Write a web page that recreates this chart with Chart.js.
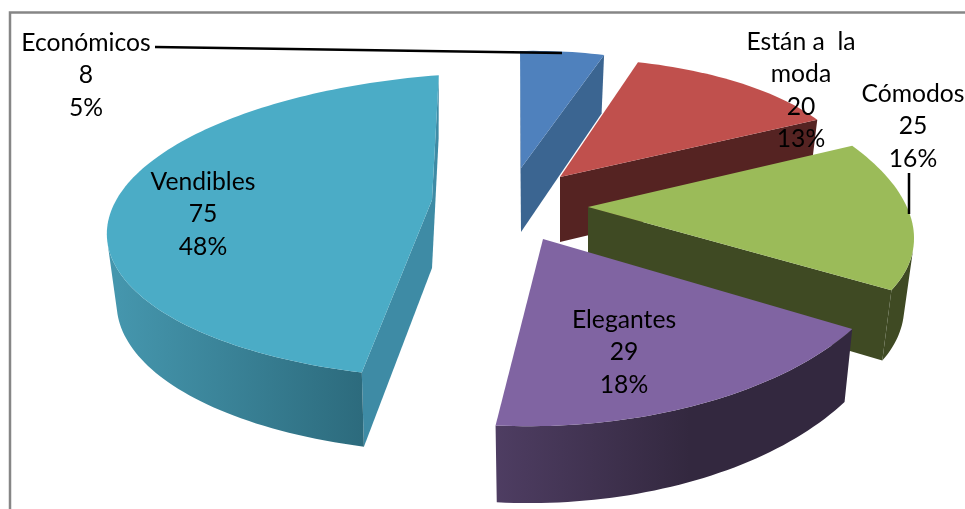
<!DOCTYPE html>
<html>
<head>
<meta charset="utf-8">
<style>
  html, body { margin: 0; padding: 0; background: #fff; }
  canvas { display: block; }
</style>
<script src="https://cdn.jsdelivr.net/npm/chart.js@4/dist/chart.umd.min.js"></script>
</head>
<body>
<canvas id="pie3d" width="965" height="509"></canvas>
<script>
const categories = ["Económicos", "Están a  la moda", "Cómodos", "Elegantes", "Vendibles"];
const amounts = [8, 20, 25, 29, 75];

const topColors = ["#4f81bd", "#c0504d", "#9bbb59", "#8064a2", "#4bacc6"];
const faceColors = ["#3b6591", "#552322", "#3f4a23", "#3f3150", "#3e8ba5"];
const wallColors = [
  ["#3b6591", "#3b6591"],
  ["#552322", "#552322"],
  ["#3f4a23", "#3f4a23"],
  ["#4e3d62", "#33283f"],
  ["#4596ad", "#2c6a7c"],
];

// projection of each exploded slice onto the page: Excel's 3D pie has perspective,
// so every slice gets its own tilt (a b c d), foreshortening (q p) and wall depth
const views = [
  { cx: 521, cy: 168, a: 267, b: -6, c: 1, d: 117, q: 0, p: 0, depth: 64, sx: 0.97, sy: 1.05, gx: [520, 604] },
  { cx: 560, cy: 177, a: 293, b: -6, c: 15, d: 119, q: 0, p: 0, depth: 65, sx: 0.97, sy: 1.04, gx: [560, 817] },
  { cx: 588, cy: 207, a: 321, b: 5, c: 57, d: 151, q: 0, p: 0, depth: 67, sx: 0.97, sy: 1.04, gx: [588, 913] },
  { cx: 543, cy: 239, a: 361, b: -9, c: 3, d: 187, q: 0, p: 0, depth: 69, sx: 0.975, sy: 1.042, gx: [496, 690] },
  { cx: 432, cy: 200, a: 370, b: -8.8, c: -8, d: 146.7, q: 0.158, p: 0.175, depth: 68, sx: 0.97, sy: 1.035, gx: [117, 367] },
];

const labelLines = [["Económicos"], ["Están a  la", "moda"], ["Cómodos"], ["Elegantes"], ["Vendibles"]];
const labelSpots = [[86, 43], [801, 42], [913, 94], [624, 320], [203, 182]];
const lineHeight = 32.5;

function project(view, angle) {
  const x = Math.cos(angle), y = Math.sin(angle);
  const w = 1 - view.q * x - view.p * y;
  return { x: view.cx + (view.a * x + view.c * y) / w, y: view.cy + (view.b * x + view.d * y) / w };
}

function drop(view, pt) {
  return {
    x: view.cx + (pt.x - view.cx) * view.sx,
    y: view.cy + view.depth + (pt.y - view.cy) * view.sy,
  };
}

function quadArea(q) {
  let sum = 0;
  q.forEach((p, i) => {
    const n = q[(i + 1) % q.length];
    sum += p.x * n.y - n.x * p.y;
  });
  return sum;
}

function fillPath(ctx, pts, fill) {
  ctx.beginPath();
  pts.forEach((p, i) => i ? ctx.lineTo(p.x, p.y) : ctx.moveTo(p.x, p.y));
  ctx.closePath();
  ctx.fillStyle = fill;
  ctx.fill();
}

function drawSlice(ctx, arc, i) {
  const view = views[i];
  const steps = Math.max(8, Math.round((arc.endAngle - arc.startAngle) * 40));
  const rim = [];
  for (let s = 0; s <= steps; s++) {
    rim.push(project(view, arc.startAngle + (arc.endAngle - arc.startAngle) * s / steps));
  }
  const apex = { x: view.cx, y: view.cy };

  const wall = ctx.createLinearGradient(view.gx[0], 0, view.gx[1], 0);
  wall.addColorStop(0, wallColors[i][0]);
  wall.addColorStop(1, wallColors[i][1]);

  // only faces turned to the viewer are painted
  const faceQuad = (p, n) => [p, n, drop(view, n), drop(view, p)];
  [[apex, rim[0]], [rim[steps], apex]].forEach(([p, n]) => {
    const q = faceQuad(p, n);
    if (quadArea(q) < 0) fillPath(ctx, q, faceColors[i]);
  });

  let run = [];
  const flush = () => {
    if (run.length > 1) {
      fillPath(ctx, [...run, ...run.map(p => drop(view, p)).reverse()], wall);
    }
    run = [];
  };
  for (let s = 0; s < steps; s++) {
    if (quadArea(faceQuad(rim[s], rim[s + 1])) < 0) {
      if (!run.length) run.push(rim[s]);
      run.push(rim[s + 1]);
    } else {
      flush();
    }
  }
  flush();

  fillPath(ctx, [apex, ...rim], topColors[i]);
}

const pie3d = {
  id: "pie3d",
  beforeDraw(chart) {
    const ctx = chart.ctx;
    ctx.save();
    ctx.fillStyle = "#fff";
    ctx.fillRect(0, 0, 965, 509);
    ctx.strokeStyle = "#868686";
    ctx.lineWidth = 2.5;
    ctx.beginPath();
    ctx.moveTo(10, 509);
    ctx.lineTo(10, 12.5);
    ctx.lineTo(965, 12.5);
    ctx.stroke();
    ctx.restore();
  },
  beforeDatasetsDraw(chart) {
    const ctx = chart.ctx;
    ctx.save();
    chart.getDatasetMeta(0).data.forEach((arc, i) => drawSlice(ctx, arc, i));
    ctx.restore();
    return false;
  },
  afterDraw(chart) {
    const ctx = chart.ctx;
    const total = amounts.reduce((a, b) => a + b, 0);
    ctx.save();
    ctx.strokeStyle = "#000";
    ctx.lineWidth = 2.5;
    ctx.beginPath();
    ctx.moveTo(155, 47);
    ctx.lineTo(562, 53);
    ctx.moveTo(909, 173);
    ctx.lineTo(909, 214);
    ctx.stroke();

    ctx.fillStyle = "#000";
    ctx.font = "24.7px Lato";
    ctx.textAlign = "center";
    ctx.textBaseline = "middle";
    amounts.forEach((v, i) => {
      const lines = [...labelLines[i], String(v), Math.round(v / total * 100) + "%"];
      lines.forEach((t, k) => ctx.fillText(t, labelSpots[i][0], labelSpots[i][1] + k * lineHeight));
    });
    ctx.restore();
  },
};

new Chart(document.getElementById("pie3d").getContext("2d"), {
  type: "pie",
  data: {
    labels: categories,
    datasets: [{ data: amounts, backgroundColor: topColors, borderWidth: 0 }],
  },
  options: {
    responsive: false,
    animation: false,
    events: [],
    plugins: { legend: { display: false }, tooltip: { enabled: false } },
  },
  plugins: [pie3d],
});
</script>
</body>
</html>
